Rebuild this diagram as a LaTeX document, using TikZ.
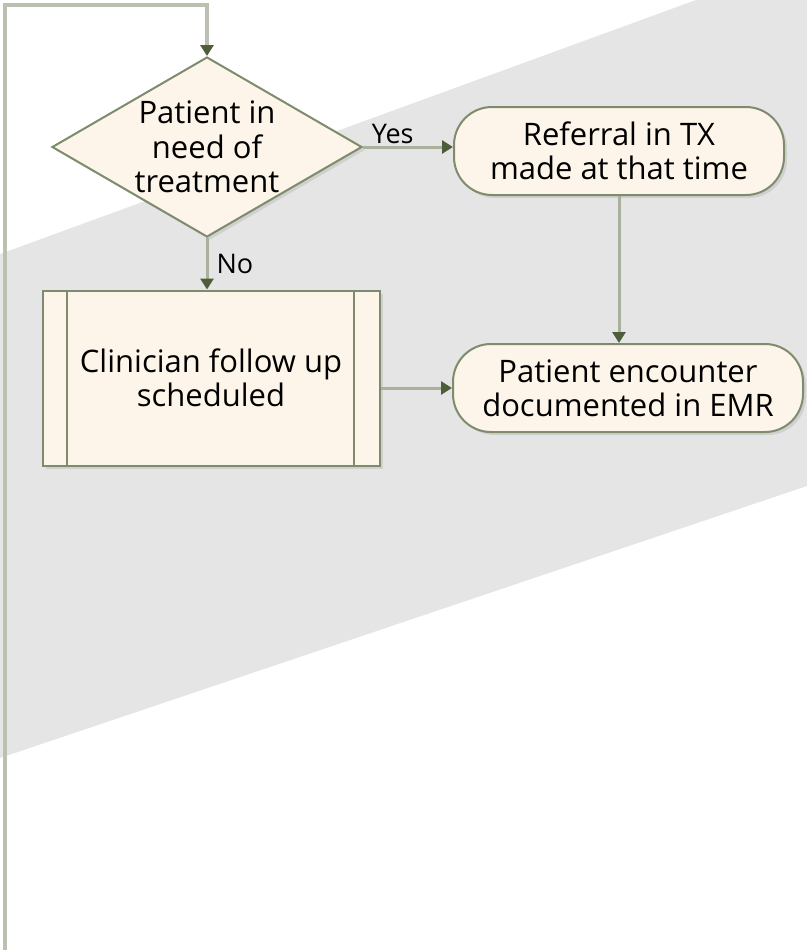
\documentclass[tikz,border=0pt]{standalone}
\usepackage{fontspec}
\setmainfont{Open Sans}
\usetikzlibrary{shapes.geometric, arrows.meta, positioning, shadows}

\definecolor{boxfill}{HTML}{FDF5E9}
\definecolor{boxline}{HTML}{7E8B6C}
\definecolor{linkline}{HTML}{A9B19C}
\definecolor{tipgreen}{HTML}{4E5E3A}
\definecolor{bandgray}{HTML}{E5E5E5}

\begin{document}
\begin{tikzpicture}[
      x=0.5pt, y=-0.5pt,
      font=\fontsize{15.5}{17.2}\selectfont,
      box/.style={draw=boxline, line width=1pt, fill=boxfill, align=center, inner sep=0pt,
                  drop shadow={shadow xshift=1.5pt, shadow yshift=-1.5pt, opacity=0.2}},
      decision/.style={box, diamond, aspect=1.72, minimum width=155pt, minimum height=90pt},
      process/.style={box, rectangle, minimum width=168.5pt, minimum height=87.5pt},
      terminal/.style={box, rectangle, rounded corners=19pt, minimum height=44pt},
      arrow/.style={draw=linkline, line width=1.5pt, -{Triangle[length=5.5pt, width=6.5pt, color=tipgreen]}},
      loopline/.style={arrow, line width=2pt, draw=linkline!80},
      lbl/.style={font=\fontsize{13.5}{15}\selectfont, inner sep=1pt}
    ]
    \useasboundingbox (0,0) rectangle (807,950);

    % background band
    \fill[bandgray] (696,0) -- (807,0) -- (807,486) -- (0,758) -- (0,254) -- cycle;

    \node[decision] (need) at (207,147) {Patient in\\need of\\treatment};
    \node[terminal, minimum width=165pt] (ref) at (619,151) {Referral in TX\\made at that time};
    \node[process] (clin) at (211,378) {Clinician follow up\\scheduled};
    \node[terminal, minimum width=175pt] (enc) at (628,388) {Patient encounter\\documented in EMR};

    % inner bars of the process box
    \draw[boxline, line width=1pt] ([xshift=12.5pt]clin.north west) -- ([xshift=12.5pt]clin.south west);
    \draw[boxline, line width=1pt] ([xshift=-13.5pt]clin.north east) -- ([xshift=-13.5pt]clin.south east);

    % loop back in from below
    \coordinate (back) at (5,952);
    \draw[loopline] (back) -- (5,5) -| (need.north);

    \draw[arrow] (need.east) -- (need.east -| ref.west) node[lbl, pos=0.33, above] (yes) {Yes};
    \draw[arrow] (need.south) -- (need.south |- clin.north) node[lbl, midway, right=3pt] (no) {No};
    \draw[arrow] (ref.south) -- (ref.south |- enc.north);
    \draw[arrow] (enc.west -| clin.east) -- (enc.west);
  \end{tikzpicture}
\end{document}
